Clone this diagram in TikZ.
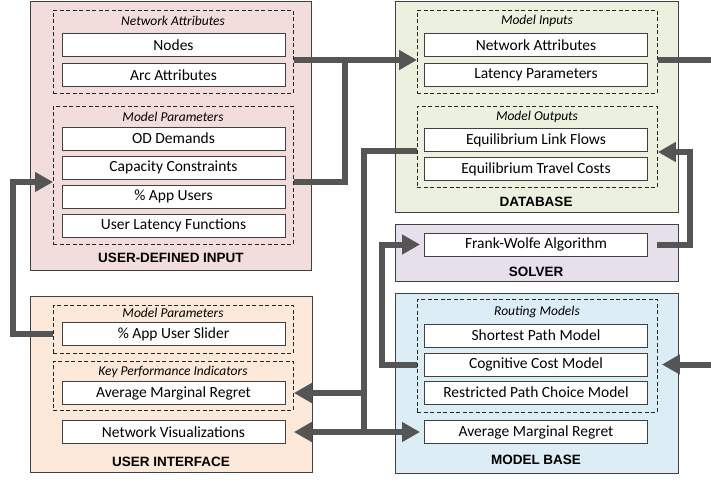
\documentclass[tikz,border=0pt]{standalone}
\usepackage{fontspec}
\setmainfont{Carlito}
\newfontfamily\headfont{Liberation Sans}
\usepackage{tikz}
\usetikzlibrary{arrows.meta}
\definecolor{udifill}{RGB}{242,221,220}
\definecolor{dbfill}{RGB}{235,241,222}
\definecolor{solverfill}{RGB}{229,224,236}
\definecolor{mbfill}{RGB}{220,237,245}
\definecolor{uifill}{RGB}{253,233,217}
\definecolor{flowgray}{RGB}{85,85,85}
\definecolor{edgegray}{RGB}{64,64,64}
\tikzset{
  panel/.style={draw=edgegray, fill=#1, line width=0.9pt, anchor=north west,
    inner sep=0pt},
  group/.style={draw=black!85, dash pattern=on 4pt off 2.5pt, line width=0.9pt,
    anchor=north west, inner sep=0pt},
  item/.style={draw=edgegray, fill=white, line width=1pt,
    minimum width=223, minimum height=23, inner sep=0pt,
    font=\fontsize{15.5}{16}\selectfont},
  grouptitle/.style={font=\fontsize{13.5}{14}\selectfont\itshape},
  paneltitle/.style={font=\fontsize{13.5}{14}\selectfont\headfont\bfseries},
  line/.style={draw=flowgray, line width=6pt},
  flow/.style={line, -{Triangle[length=18pt,width=19pt]}},
}
\begin{document}
\begin{tikzpicture}[x=1pt,y=-1pt]
\useasboundingbox (0,0) rectangle (711,480);
% panels
\node[panel=udifill, minimum width=281, minimum height=269.5] (udi) at (30,0.5) {};
\node[panel=uifill, minimum width=282, minimum height=176] (ui) at (30,296) {};
\node[panel=dbfill, minimum width=283, minimum height=211.5] (db) at (395,0.5) {};
\node[panel=solverfill, minimum width=283, minimum height=57] (solver) at (395,224) {};
\node[panel=mbfill, minimum width=283, minimum height=180] (mb) at (395,293) {};
\node[paneltitle] (uditext) at (171,258) {USER-DEFINED INPUT};
\node[paneltitle] (uitext) at (171,462) {USER INTERFACE};
\node[paneltitle] (dbtext) at (536,202) {DATABASE};
\node[paneltitle] (solvertext) at (536,272) {SOLVER};
\node[paneltitle] (mbtext) at (536,460) {MODEL BASE};
% dashed groups
\node[group, minimum width=240, minimum height=83] (netattr) at (53,10) {};
\node[group, minimum width=240, minimum height=138] (params) at (53,106) {};
\node[group, minimum width=240, minimum height=48] (uiparams) at (53,305) {};
\node[group, minimum width=240, minimum height=49] (kpi) at (53,361) {};
\node[group, minimum width=240, minimum height=83] (inputs) at (417,10) {};
\node[group, minimum width=240, minimum height=81] (outputs) at (417,106) {};
\node[group, minimum width=240, minimum height=113] (routing) at (417,299) {};
\node[grouptitle] (netattrtext) at (173,21) {Network Attributes};
\node[grouptitle] (paramstext) at (173,117) {Model Parameters};
\node[grouptitle] (uiparamstext) at (173,313) {Model Parameters};
\node[grouptitle] (kpitext) at (173,372) {Key Performance Indicators};
\node[grouptitle] (inputstext) at (537,21) {Model Inputs};
\node[grouptitle] (outputstext) at (537,117) {Model Outputs};
\node[grouptitle] (routingtext) at (537,312) {Routing Models};
% items
\node[item] (nodes) at (173.5,45) {Nodes};
\node[item] (arcs) at (173.5,75) {Arc Attributes};
\node[item] (od) at (173.5,138.5) {OD Demands};
\node[item] (cap) at (173.5,167.5) {Capacity Constraints};
\node[item] (app) at (173.5,196.5) {\% App Users};
\node[item] (latency) at (173.5,225.5) {User Latency Functions};
\node[item] (slider) at (173.5,334) {\% App User Slider};
\node[item] (amr) at (173.5,393) {Average Marginal Regret};
\node[item] (netvis) at (173.5,432) {Network Visualizations};
\node[item] (netin) at (536,45) {Network Attributes};
\node[item] (latin) at (536,75) {Latency Parameters};
\node[item] (elf) at (536,140) {Equilibrium Link Flows};
\node[item] (etc) at (536,169) {Equilibrium Travel Costs};
\node[item] (fw) at (536,244.5) {Frank-Wolfe Algorithm};
\node[item] (sp) at (536,335.5) {Shortest Path Model};
\node[item] (cc) at (536,364.5) {Cognitive Cost Model};
\node[item] (rpc) at (536,392.5) {Restricted Path Choice Model};
\node[item] (amrmb) at (536,432) {Average Marginal Regret};
% connectors
\coordinate (join) at (345,60);
\coordinate (bus) at (364,432);
\coordinate (dbout) at (711,60);
\coordinate (mbin) at (711,364.5);
\draw[flow] (netattr.east |- join) -- (inputs.west |- join);
\draw[line] (params.east |- 0,182) -| (join);
\draw[line] (inputs.east |- join) -- (dbout);
\draw[flow] (uiparams.west |- slider) -- ++(-40,0) |- (params.west |- 0,182);
\draw[line] (outputs.west |- 0,151) -| (bus);
\draw[flow] (bus |- amr) -- (kpi.east |- amr);
\draw[flow] (bus) -- (kpi.east |- netvis);
\draw[flow, shorten >=4pt] (bus) -- (amrmb.west);
\draw[flow, shorten >=4pt] (routing.west |- cc) -- ++(-35,0) |- (fw.west);
\draw[flow, shorten <=9pt] (fw.east) -- ++(42,0) |- (outputs.east |- 0,152);
\draw[flow, shorten >=4pt] (mbin) -- (routing.east |- cc);
\end{tikzpicture}
\end{document}
